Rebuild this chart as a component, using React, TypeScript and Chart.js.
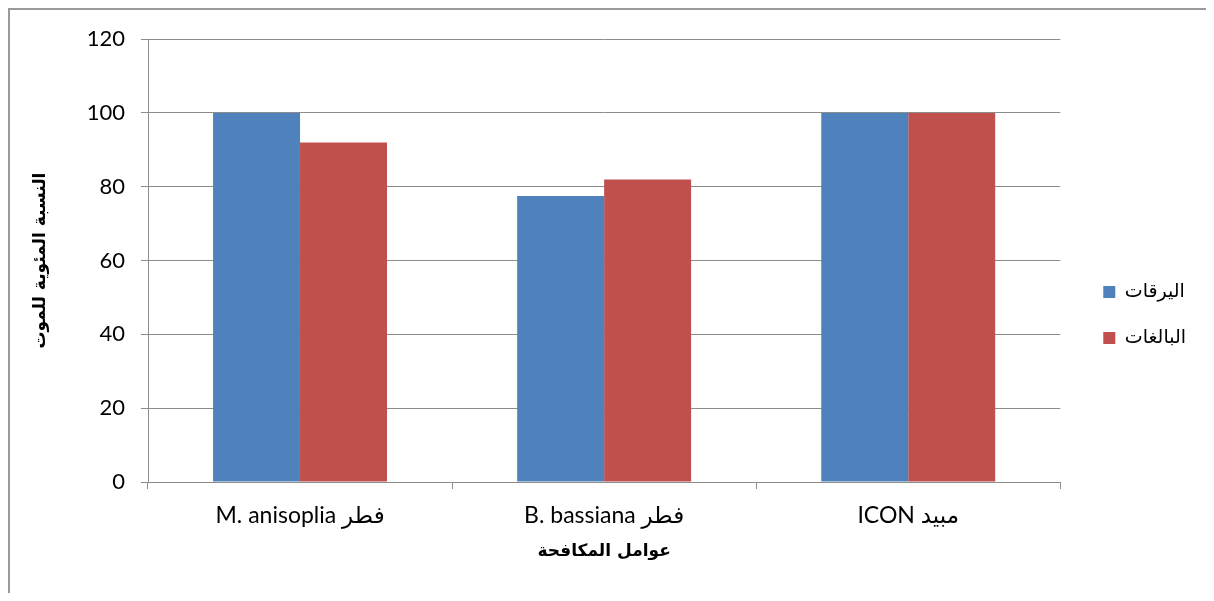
import React, { useEffect, useRef } from "react";
import { Chart, registerables } from "chart.js";

Chart.register(...registerables);

const categories = ["M. anisoplia فطر", "B. bassiana فطر", "ICON مبيد"];
const seriesNames = ["اليرقات", "البالغات"];
const larvaeValues = [100, 77.5, 100];
const adultValues = [92, 82, 100];
const seriesColors = ["#4F81BD", "#C0504D"];
const yMin = 0;
const yMax = 120;
const yStep = 20;
const xTitle = "عوامل المكافحة";
const yTitle = "النسبة المئوية للموت";

const GRID = "#8c8c8c";
const LATIN = "Lato, 'DejaVu Sans', sans-serif";
const ARABIC = "'DejaVu Sans', Arial, sans-serif";

export default function App() {
  const ref = useRef<HTMLCanvasElement | null>(null);

  useEffect(() => {
    document.documentElement.style.overflow = "hidden";
    document.body.style.overflow = "hidden";
    if (!ref.current) return;
    const chart = new Chart(ref.current, {
      type: "bar",
      data: {
        labels: categories,
        datasets: [
          {
            label: seriesNames[0],
            data: larvaeValues,
            backgroundColor: seriesColors[0],
            borderWidth: 0,
            categoryPercentage: 0.572,
            barPercentage: 1,
          },
          {
            label: seriesNames[1],
            data: adultValues,
            backgroundColor: seriesColors[1],
            borderWidth: 0,
            categoryPercentage: 0.572,
            barPercentage: 1,
          },
        ],
      },
      options: {
        responsive: false,
        animation: false,
        layout: {
          autoPadding: false,
          padding: { top: 27, right: 10, left: 0, bottom: 0 },
        },
        plugins: {
          tooltip: { enabled: false },
          legend: {
            position: "right",
            labels: {
              boxWidth: 12,
              boxHeight: 12,
              padding: 27,
              color: "#000",
              font: { family: ARABIC, size: 19 },
            },
          },
        },
        scales: {
          x: {
            afterFit: (s: any) => {
              s.height = 111;
            },
            grid: {
              offset: true,
              drawOnChartArea: false,
              drawTicks: true,
              tickLength: 7,
              color: GRID,
            },
            border: { color: GRID, width: 1 },
            ticks: {
              color: "#000",
              padding: 13,
              font: { family: LATIN, size: 23 },
              maxRotation: 0,
            },
            title: {
              display: true,
              text: xTitle,
              color: "#000",
              font: { family: ARABIC, size: 17, weight: "bold" },
              padding: { top: 31, bottom: 31 },
            },
          },
          y: {
            min: yMin,
            max: yMax,
            afterFit: (s: any) => {
              s.width = 138;
            },
            grid: {
              color: GRID,
              lineWidth: 1,
              drawTicks: true,
              tickLength: 7,
            },
            border: { color: GRID, width: 1 },
            ticks: {
              stepSize: yStep,
              color: "#000",
              padding: 16,
              font: { family: LATIN, size: 22 },
            },
            title: {
              display: true,
              text: yTitle,
              color: "#000",
              font: { family: ARABIC, size: 17, weight: "bold" },
              padding: { top: 20, bottom: 0 },
            },
          },
          gap: {
            type: "linear",
            position: "right",
            display: true,
            afterFit: (s: any) => {
              s.width = 16;
            },
            grid: { display: false, drawOnChartArea: false, drawTicks: false },
            border: { display: false },
            ticks: { display: false },
          },
        },
      },
    });
    return () => chart.destroy();
  }, []);

  return (
    <div
      style={{
        borderLeft: "2px solid #9a9a9a",
        borderTop: "2px solid #9a9a9a",
        width: 1204,
        height: 583,
      }}
    >
      <canvas
        ref={ref}
        width={1196}
        height={583}
        style={{ display: "block", width: 1196, height: 583 }}
      />
    </div>
  );
}
